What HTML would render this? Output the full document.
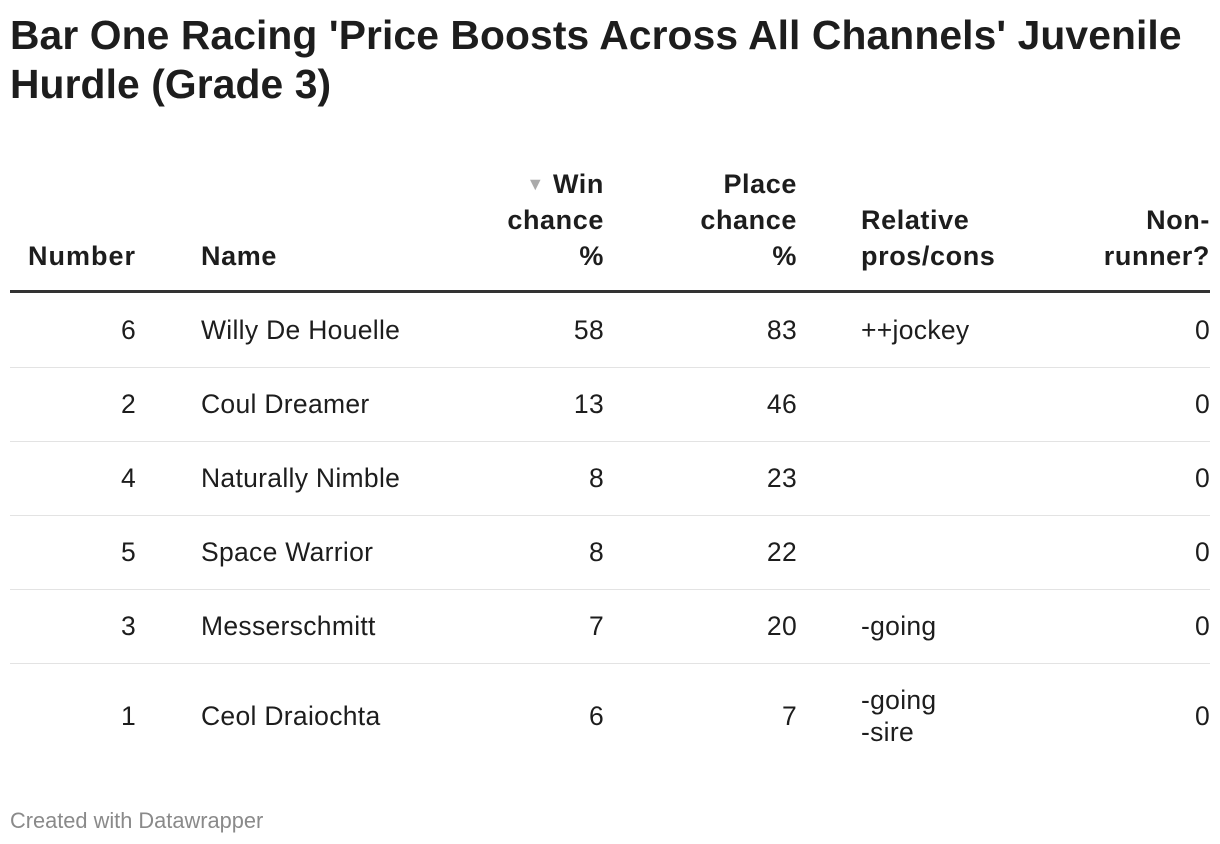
<!DOCTYPE html>
<html><head><meta charset="utf-8"><style>
body{margin:0;width:1220px;height:844px;background:#fff;font-family:"Liberation Sans",Arial,sans-serif;color:#1d1d1d;position:relative;overflow:hidden}
.t{position:absolute;left:10px;top:11px;font-size:40.8px;font-weight:bold;line-height:49px;width:1210px;white-space:nowrap;letter-spacing:0.1px}
.h{position:absolute;font-size:27px;font-weight:bold;line-height:36px;letter-spacing:0.6px}
.c{position:absolute;font-size:26.5px;line-height:32px;letter-spacing:0.3px}
.r{text-align:right}
.rule{position:absolute;left:10px;width:1200px;height:1px;background:#e3e3e3}
</style></head><body>
<div class="t">Bar One Racing 'Price Boosts Across All Channels' Juvenile<br>Hurdle (Grade 3)</div>
<div class="h r" style="left:0px;width:136px;top:238px;letter-spacing:1px">Number</div>
<div class="h" style="left:201px;top:238px">Name</div>
<div class="h r" style="left:440px;width:164px;top:166px"><span style="color:#aaa;font-size:18px;vertical-align:3px">▼</span> Win<br>chance<br>%</div>
<div class="h r" style="left:630px;width:167px;top:166px">Place<br>chance<br>%</div>
<div class="h" style="left:861px;top:202px">Relative<br>pros/cons</div>
<div class="h r" style="left:1040px;width:170px;top:202px">Non-<br>runner?</div>
<div style="position:absolute;left:10px;top:290px;width:1200px;height:3px;background:#333"></div>
<div class="rule" style="top:367px"></div>
<div class="rule" style="top:441px"></div>
<div class="rule" style="top:515px"></div>
<div class="rule" style="top:589px"></div>
<div class="rule" style="top:663px"></div>

<div class="c r" style="left:10px;width:126px;top:314px">6</div><div class="c" style="left:201px;top:314px">Willy De Houelle</div><div class="c r" style="left:450px;width:154px;top:314px">58</div><div class="c r" style="left:640px;width:157px;top:314px">83</div><div class="c" style="left:861px;top:314px">++jockey</div><div class="c r" style="left:1050px;width:160px;top:314px">0</div>
<div class="c r" style="left:10px;width:126px;top:388px">2</div><div class="c" style="left:201px;top:388px">Coul Dreamer</div><div class="c r" style="left:450px;width:154px;top:388px">13</div><div class="c r" style="left:640px;width:157px;top:388px">46</div><div class="c r" style="left:1050px;width:160px;top:388px">0</div>
<div class="c r" style="left:10px;width:126px;top:462px">4</div><div class="c" style="left:201px;top:462px">Naturally Nimble</div><div class="c r" style="left:450px;width:154px;top:462px">8</div><div class="c r" style="left:640px;width:157px;top:462px">23</div><div class="c r" style="left:1050px;width:160px;top:462px">0</div>
<div class="c r" style="left:10px;width:126px;top:536px">5</div><div class="c" style="left:201px;top:536px">Space Warrior</div><div class="c r" style="left:450px;width:154px;top:536px">8</div><div class="c r" style="left:640px;width:157px;top:536px">22</div><div class="c r" style="left:1050px;width:160px;top:536px">0</div>
<div class="c r" style="left:10px;width:126px;top:610px">3</div><div class="c" style="left:201px;top:610px">Messerschmitt</div><div class="c r" style="left:450px;width:154px;top:610px">7</div><div class="c r" style="left:640px;width:157px;top:610px">20</div><div class="c" style="left:861px;top:610px">-going</div><div class="c r" style="left:1050px;width:160px;top:610px">0</div>
<div class="c r" style="left:10px;width:126px;top:700px">1</div><div class="c" style="left:201px;top:700px">Ceol Draiochta</div><div class="c r" style="left:450px;width:154px;top:700px">6</div><div class="c r" style="left:640px;width:157px;top:700px">7</div><div class="c" style="left:861px;top:684px">-going<br>-sire</div><div class="c r" style="left:1050px;width:160px;top:700px">0</div>

<div style="position:absolute;left:10px;top:808px;font-size:21.8px;color:#8a8a8a">Created with Datawrapper</div>
</body></html>
